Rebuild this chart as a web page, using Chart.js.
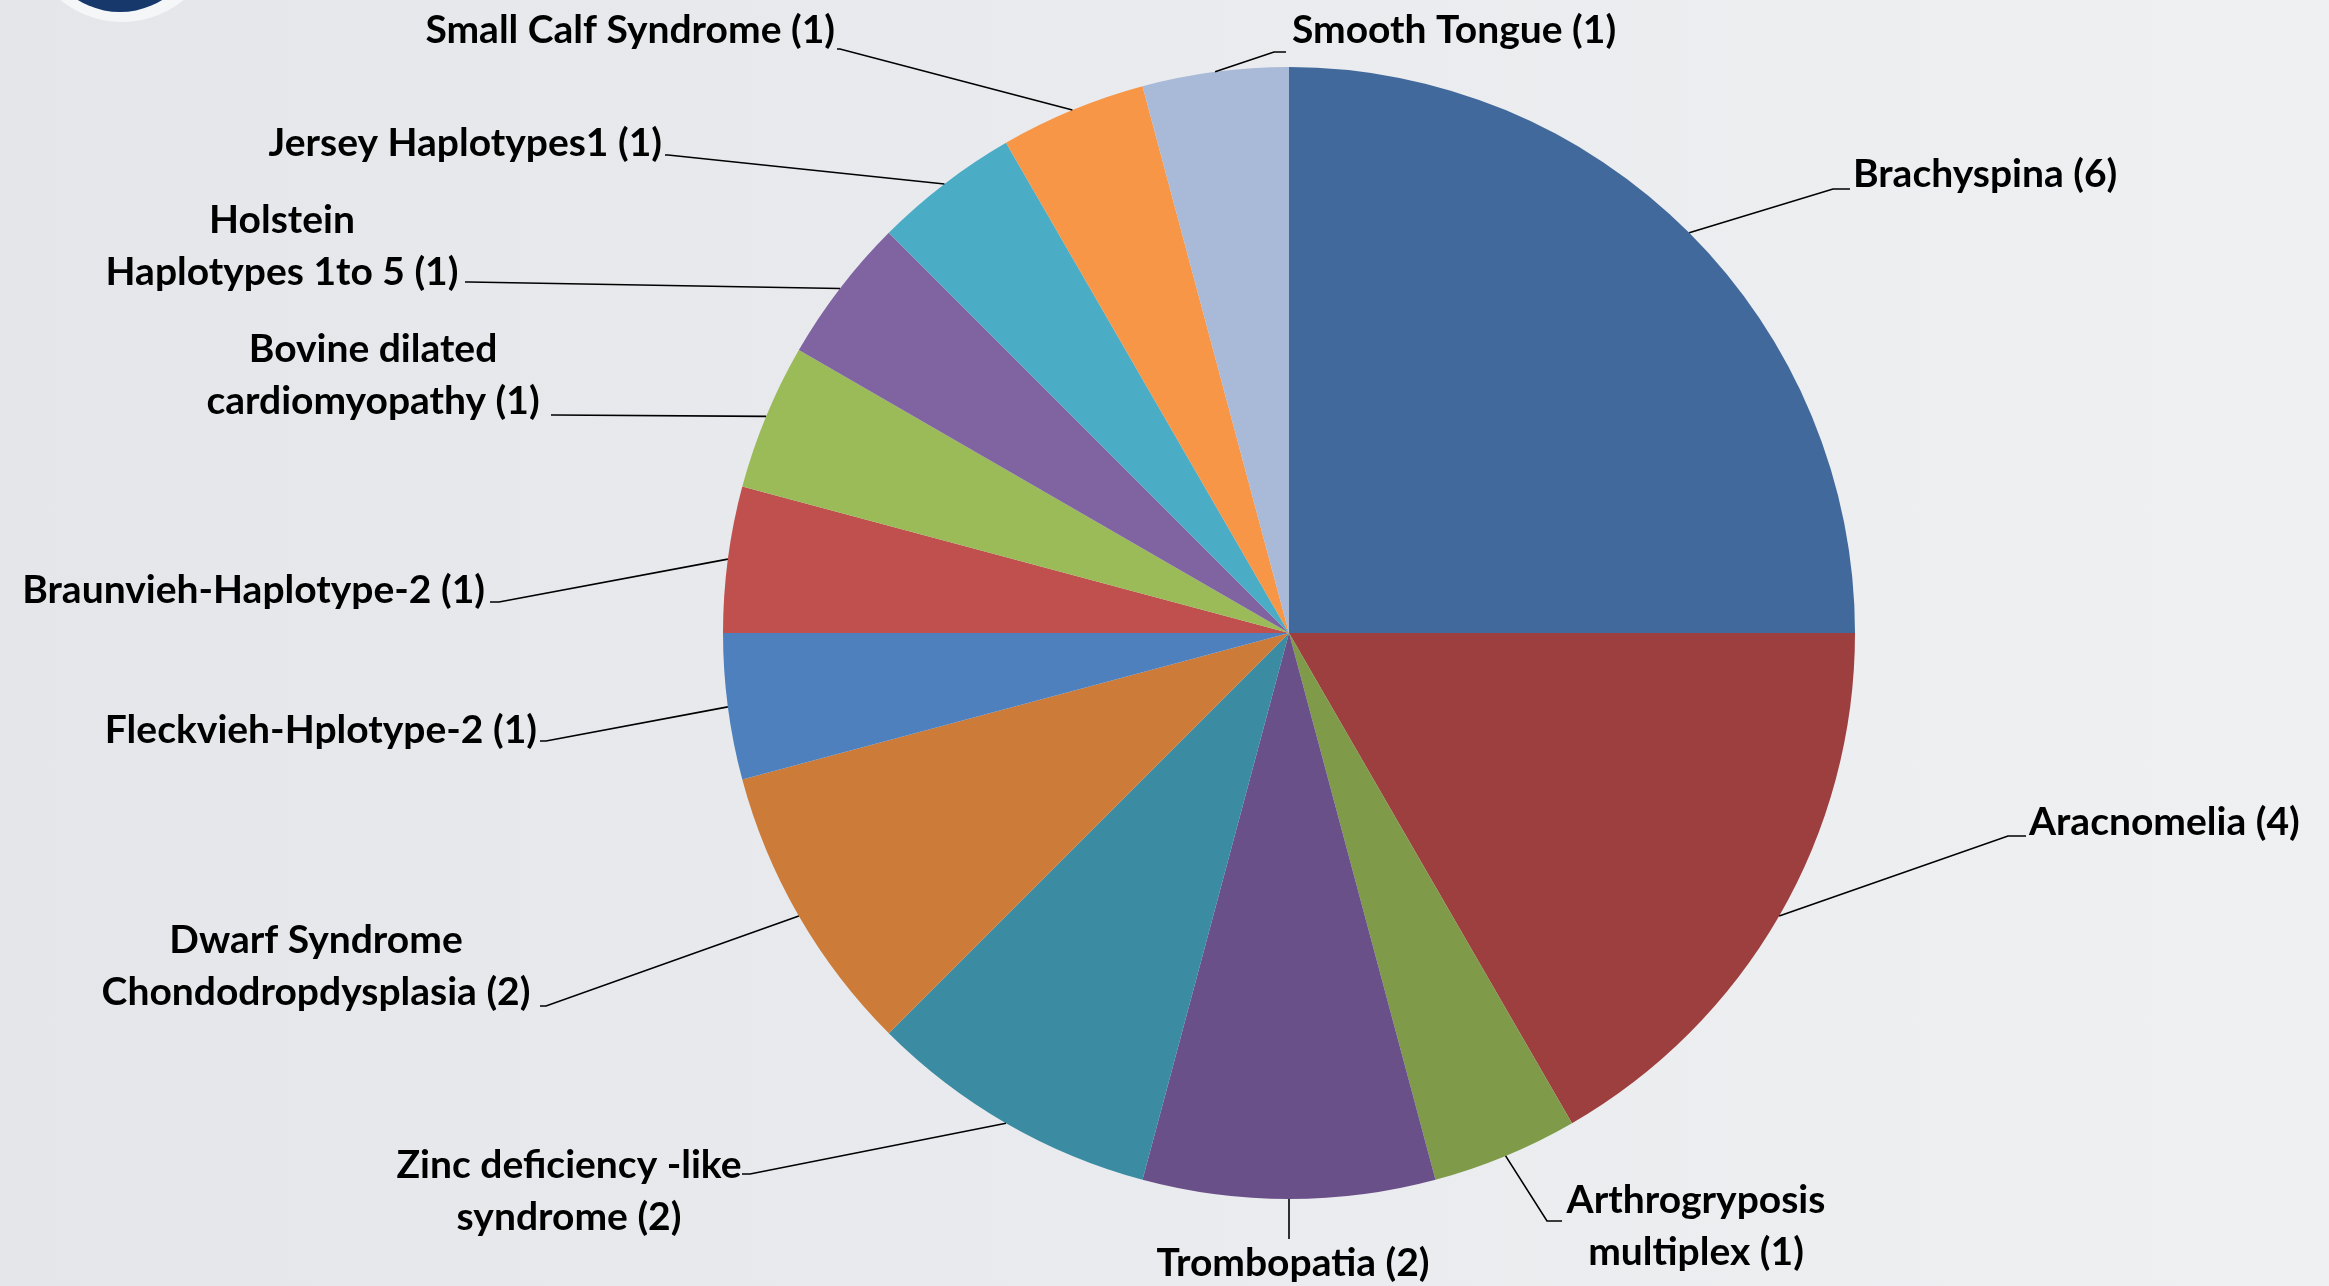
<!DOCTYPE html>
<html>
<head>
<meta charset="utf-8">
<script src="https://cdn.jsdelivr.net/npm/chart.js@4"></script>
<style>
  html, body { margin: 0; padding: 0; }
  body {
    width: 2329px; height: 1286px; overflow: hidden;
    background: linear-gradient(90deg, #e4e6ea 0%, #e9ebee 50%, #eef0f2 100%);
  }
  canvas { display: block; }
</style>
</head>
<body>
<canvas id="myChart" width="2329" height="1286"></canvas>
<script>
'use strict';
// categories, clockwise from 12 o'clock
let diseases = [
  'Brachyspina',
  'Aracnomelia',
  'Arthrogryposis multiplex',
  'Trombopatia',
  'Zinc deficiency -like syndrome',
  'Dwarf Syndrome Chondodropdysplasia',
  'Fleckvieh-Hplotype-2',
  'Braunvieh-Haplotype-2',
  'Bovine dilated cardiomyopathy',
  'Holstein Haplotypes 1to 5',
  'Jersey Haplotypes1',
  'Small Calf Syndrome',
  'Smooth Tongue',
];
let cases = [6, 4, 1, 2, 2, 2, 1, 1, 1, 1, 1, 1, 1];

// label text as it is broken on the slide
let labelLines = [
  ['Brachyspina (6)'],
  ['Aracnomelia (4)'],
  ['Arthrogryposis', 'multiplex (1)'],
  ['Trombopatia (2)'],
  ['Zinc deficiency -like', 'syndrome (2)'],
  ['Dwarf Syndrome', 'Chondodropdysplasia (2)'],
  ['Fleckvieh-Hplotype-2 (1)'],
  ['Braunvieh-Haplotype-2 (1)'],
  ['Bovine dilated', 'cardiomyopathy (1)'],
  ['Holstein', 'Haplotypes 1to 5 (1)'],
  ['Jersey Haplotypes1 (1)'],
  ['Small Calf Syndrome (1)'],
  ['Smooth Tongue (1)'],
];

let sliceColors = [
  '#41699b', '#9e3f3f', '#7f9a48', '#6a5088', '#3b8ba2', '#cc7b39', '#4e80bd',
  '#c0504d', '#9bbb59', '#8064a2', '#4bacc6', '#f79646', '#a9b9d8',
];

// label layout, px offsets from pie centre:
// [textX, textY (middle of first line), align, elbowX, elbowY, stubX]
let labelLayout = [
  [564, -459, 'left', 544, -444, 561],
  [740, 189, 'left', 719, 203, 737],
  [407, 567, 'center', 258, 588, 273],
  [4, 630, 'center', 0, 606, 0],
  [-720, 532, 'center', -539, 541, -547],
  [-973, 307, 'center', -743, 373, -749],
  [-752, 97, 'right', -743, 108, -749],
  [-804, -43, 'right', -790, -31, -799],
  [-916, -284, 'center', -735, -218, -738],
  [-1007, -413, 'center', -820, -351, -824],
  [-627, -490, 'right', -621, -478, -624],
  [-454, -603, 'right', -449, -584, -452],
  [3, -603, 'left', -15, -581, -3],
];

const lineGap = 52;

const backdrop = {
  id: 'backdrop',
  beforeDraw(chart) {
    const ctx = chart.ctx;
    ctx.save();
    // bit of the logo peeking in at top left
    ctx.beginPath();
    ctx.ellipse(122, -70, 95, 92, 0, 0, Math.PI * 2);
    ctx.fillStyle = '#f4f6f8';
    ctx.fill();
    ctx.beginPath();
    ctx.ellipse(120, -72, 82, 84, 0, 0, Math.PI * 2);
    ctx.fillStyle = '#17386b';
    ctx.fill();
    ctx.restore();
  }
};

const leaderLabels = {
  id: 'leaderLabels',
  afterDraw(chart) {
    const ctx = chart.ctx;
    const meta = chart.getDatasetMeta(0);
    ctx.save();
    ctx.strokeStyle = '#000';
    ctx.lineWidth = 1.6;
    ctx.fillStyle = '#000';
    ctx.font = 'bold 39px Lato, "Open Sans", sans-serif';
    ctx.textBaseline = 'middle';
    for (let i = 0; i < meta.data.length; i++) {
      const arc = meta.data[i];
      const p = arc.getProps(['x', 'y', 'startAngle', 'endAngle', 'outerRadius'], true);
      const mid = (p.startAngle + p.endAngle) / 2;
      const ax = p.x + Math.cos(mid) * p.outerRadius;
      const ay = p.y + Math.sin(mid) * p.outerRadius;
      const lay = labelLayout[i];
      ctx.beginPath();
      ctx.moveTo(ax, ay);
      ctx.lineTo(p.x + lay[3], p.y + lay[4]);
      ctx.lineTo(p.x + lay[5], p.y + lay[4]);
      ctx.stroke();

      const lines = labelLines[i];
      ctx.textAlign = lay[2];
      for (let j = 0; j < lines.length; j++) {
        ctx.fillText(lines[j], p.x + lay[0], p.y + lay[1] + j * lineGap);
      }
    }
    ctx.restore();
  }
};

const ctx = document.getElementById('myChart').getContext('2d');
const myChart = new Chart(ctx, {
  type: 'pie',
  data: {
    labels: diseases,
    datasets: [{
      data: cases,
      backgroundColor: sliceColors,
      borderWidth: 0,
    }]
  },
  options: {
    responsive: false,
    animation: false,
    layout: { padding: { left: 723, right: 474, top: 67, bottom: 87 } },
    plugins: {
      legend: { display: false },
      tooltip: { enabled: false },
    }
  },
  plugins: [backdrop, leaderLabels]
});
</script>
</body>
</html>
